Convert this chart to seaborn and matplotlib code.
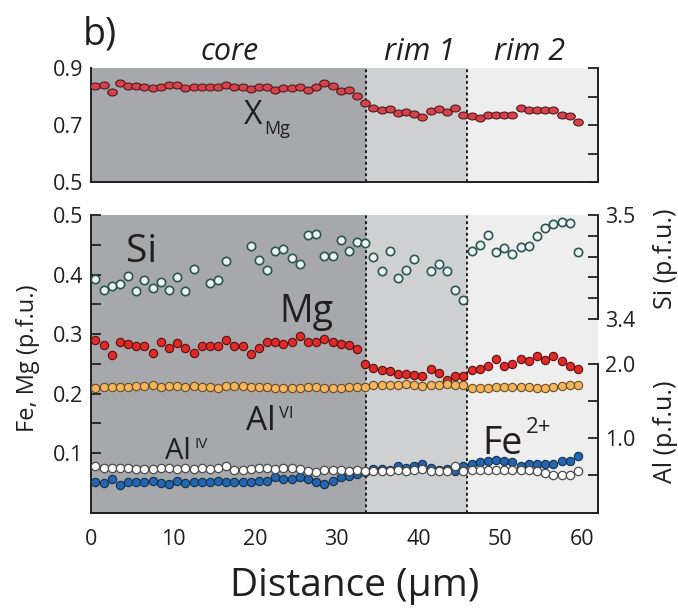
import numpy as np
import pandas as pd
import matplotlib
matplotlib.use("Agg")
import matplotlib.pyplot as plt
from matplotlib.path import Path
from matplotlib.transforms import Affine2D
import seaborn as sns

sns.set_theme(style="white")
plt.rcParams['font.family'] = ['Open Sans', 'DejaVu Sans']
plt.rcParams['axes.unicode_minus'] = False

# ---------------- data ----------------
distance = [0.5, 1.5, 2.5, 3.5, 4.5, 5.5, 6.5, 7.5, 8.5, 9.5,
            10.5, 11.5, 12.5, 13.5, 14.5, 15.5, 16.5, 17.5, 18.5, 19.5,
            20.5, 21.5, 22.5, 23.5, 24.5, 25.5, 26.5, 27.5, 28.5, 29.5,
            30.5, 31.5, 32.5, 33.5, 34.5, 35.5, 36.5, 37.5, 38.5, 39.5,
            40.5, 41.5, 42.5, 43.5, 44.5, 45.5, 46.5, 47.5, 48.5, 49.5,
            50.5, 51.5, 52.5, 53.5, 54.5, 55.5, 56.5, 57.5, 58.5, 59.5]

x_mg = [0.839, 0.841, 0.818, 0.847, 0.837, 0.838, 0.835, 0.831, 0.835, 0.840,
        0.842, 0.831, 0.835, 0.835, 0.835, 0.835, 0.842, 0.833, 0.833, 0.829,
        0.835, 0.835, 0.825, 0.830, 0.832, 0.835, 0.824, 0.835, 0.848, 0.838,
        0.820, 0.824, 0.803, 0.777, 0.760, 0.754, 0.757, 0.742, 0.748, 0.739,
        0.729, 0.751, 0.757, 0.747, 0.760, 0.735, 0.734, 0.726, 0.736, 0.736,
        0.735, 0.737, 0.760, 0.754, 0.755, 0.754, 0.754, 0.735, 0.732, 0.713]

mg = [0.290, 0.282, 0.265, 0.286, 0.283, 0.280, 0.280, 0.268, 0.286, 0.276,
      0.285, 0.276, 0.268, 0.280, 0.280, 0.280, 0.290, 0.280, 0.280, 0.267,
      0.277, 0.286, 0.287, 0.283, 0.286, 0.297, 0.286, 0.286, 0.292, 0.286,
      0.283, 0.282, 0.275, 0.250, 0.243, 0.239, 0.238, 0.233, 0.233, 0.232,
      0.230, 0.242, 0.235, 0.223, 0.230, 0.229, 0.239, 0.241, 0.247, 0.258,
      0.246, 0.249, 0.258, 0.255, 0.264, 0.256, 0.263, 0.254, 0.246, 0.242]

fe2 = [0.052, 0.050, 0.056, 0.047, 0.051, 0.052, 0.052, 0.053, 0.050, 0.049,
       0.054, 0.050, 0.052, 0.052, 0.052, 0.053, 0.051, 0.052, 0.052, 0.052,
       0.053, 0.054, 0.060, 0.056, 0.056, 0.060, 0.056, 0.051, 0.048, 0.053,
       0.060, 0.061, 0.065, 0.068, 0.074, 0.074, 0.072, 0.078, 0.075, 0.079,
       0.082, 0.075, 0.072, 0.074, 0.070, 0.078, 0.082, 0.085, 0.086, 0.089,
       0.086, 0.085, 0.079, 0.081, 0.082, 0.081, 0.082, 0.087, 0.086, 0.095]

si = [3.4385, 3.4282, 3.4314, 3.4334, 3.4416, 3.4266, 3.4377, 3.4300, 3.4358, 3.4281,
      3.4399, 3.4273, 3.4483, np.nan, 3.4343, 3.4375, 3.4558, np.nan, np.nan, 3.4697,
      3.4567, 3.4471, 3.4654, 3.4671, 3.4582, 3.4529, 3.4805, 3.4815, 3.4604, 3.4601,
      3.4762, 3.4657, 3.4740, 3.4731, 3.4593, 3.4459, 3.4654, 3.4394, 3.4471, 3.4574,
      np.nan, 3.4462, 3.4529, 3.4464, 3.4276, 3.4186, 3.4657, 3.4712, 3.4811, 3.4641,
      3.4680, 3.4625, 3.4689, 3.4699, 3.4801, 3.4872, 3.4913, 3.4936, 3.4923, 3.4647]

al_vi = [1.676, 1.684, 1.684, 1.689, 1.684, 1.697, 1.707, 1.711, 1.693, 1.697,
         1.697, 1.689, 1.697, 1.684, 1.684, 1.676, 1.697, 1.702, 1.702, 1.689,
         1.684, 1.684, 1.680, 1.680, 1.676, 1.676, 1.684, 1.684, 1.676, 1.676,
         1.676, 1.684, 1.684, 1.689, 1.711, 1.720, 1.711, 1.720, 1.733, 1.711,
         1.702, 1.711, 1.720, 1.724, 1.711, 1.711, 1.680, 1.680, 1.680, 1.689,
         1.689, 1.689, 1.689, 1.689, 1.680, 1.680, 1.689, 1.702, 1.711, 1.711]

al_iv = [0.623, 0.600, 0.600, 0.600, 0.600, 0.591, 0.591, 0.591, 0.600, 0.600,
         0.591, 0.600, 0.591, 0.600, 0.591, 0.600, 0.623, 0.578, 0.578, 0.591,
         0.600, 0.600, 0.591, 0.600, 0.600, 0.591, 0.556, 0.543, 0.578, 0.578,
         0.578, 0.564, 0.578, 0.556, 0.556, 0.556, 0.556, 0.578, 0.556, 0.578,
         0.591, 0.564, 0.556, 0.564, 0.623, 0.556, 0.569, 0.569, 0.569, 0.569,
         0.569, 0.569, 0.578, 0.569, 0.556, 0.533, 0.511, 0.511, 0.503, 0.556]

zone_edges = [0, 33.6, 46.0, 62]
zone_names = ["core", "rim 1", "rim 2"]
zone_colors = ["#a7a8ab", "#cfd0d2", "#eeeeef"]

x_ticks = [0, 10, 20, 30, 40, 50, 60]
top_yticks = [0.5, 0.6, 0.7, 0.8, 0.9]
top_ylabels = ["0.5", "", "0.7", "", "0.9"]
bot_yticks = [0.05, 0.1, 0.15, 0.2, 0.25, 0.3, 0.35, 0.4, 0.45, 0.5]
bot_ylabels = ["", "0.1", "", "0.2", "", "0.3", "", "0.4", "", "0.5"]
si_ticks = [3.4, 3.42, 3.44, 3.46, 3.48, 3.5]
si_labels = ["3.4", "", "", "", "", "3.5"]
al_ticks = [0.5, 1.0, 1.5, 2.0]
al_labels = ["", "1.0", "", "2.0"]

# ---------------- figure ----------------
W, H = 678, 609
fig = plt.figure(figsize=(W / 100, H / 100), dpi=100)
fig.patch.set_facecolor("white")

def fx(px):
    return px / W

def fy(py):
    return 1 - py / H

L, R = 91.3, 598.3
ax_top = fig.add_axes([fx(L), fy(182.3), (R - L) / W, (182.3 - 68.3) / H])
ax_bot = fig.add_axes([fx(L), fy(512.7), (R - L) / W, (512.7 - 215.0) / H])

INK = "#231f20"
TICKFS = 15.5

for ax in (ax_top, ax_bot):
    ax.set_xlim(0, 62)
    for i, c in enumerate(zone_colors):
        ax.axvspan(zone_edges[i], zone_edges[i + 1], color=c, lw=0, zorder=0)
    for xe in zone_edges[1:3]:
        ax.axvline(xe, color="#111111", lw=1.3, ls=(0, (1.6, 1.6)), zorder=1)
    ax.set_facecolor("none")
    ax.spines["top"].set_visible(False)
    for s in ("left", "bottom", "right"):
        ax.spines[s].set_color(INK)
        ax.spines[s].set_linewidth(1.4)
    ax.set_xticks(x_ticks)
    ax.tick_params(axis="both", direction="in", color=INK, width=1.3,
                   labelsize=TICKFS, labelcolor=INK)
    ax.tick_params(axis="y", length=7)
    ax.tick_params(axis="x", length=5.5, pad=12)
    ax.set_xlabel("")
    ax.set_ylabel("")

# ---- top panel: X_Mg
ellipse = Path.unit_circle().transformed(Affine2D().scale(1.0, 0.72))
df_top = pd.DataFrame({"distance": distance, "XMg": x_mg})
sns.scatterplot(data=df_top, x="distance", y="XMg", ax=ax_top, marker=ellipse,
                s=48, color="#d6434c", edgecolor="#4f1a1e", linewidth=0.8,
                legend=False, zorder=3)
ax_top.set_ylim(0.5, 0.9)
ax_top.set_yticks(top_yticks)
ax_top.set_yticklabels(top_ylabels)
ax_top.tick_params(axis="y", right=True, labelright=False, pad=6)
ax_top.tick_params(axis="x", labelbottom=False)
ax_top.set_xlabel("")
ax_top.set_ylabel("")

# ---- bottom panel
df_bot = pd.DataFrame({"distance": distance, "Mg": mg, "Fe2+": fe2,
                       "Si": si, "AlVI": al_vi, "AlIV": al_iv})
ax_bot.set_ylim(0, 0.5)
ax_bot.spines["right"].set_visible(False)
ax_bot.set_yticks(bot_yticks)
ax_bot.set_yticklabels(bot_ylabels)
ax_bot.tick_params(axis="y", pad=6)

ax_al = ax_bot.twinx()
ax_si = ax_bot.twinx()
for tw in (ax_al, ax_si):
    tw.set_xlim(0, 62)
    tw.grid(False)
    for s in ("top", "left", "bottom"):
        tw.spines[s].set_visible(False)
    tw.spines["right"].set_color(INK)
    tw.spines["right"].set_linewidth(1.4)
    tw.tick_params(axis="y", direction="in", length=7, width=1.3, color=INK,
                   labelsize=TICKFS, labelcolor=INK, pad=5)

ax_al.set_ylim(0, 4.0)
ax_al.spines["right"].set_bounds(0, 2.0)
ax_al.set_yticks(al_ticks)
ax_al.set_yticklabels(al_labels)

ax_si.set_ylim(3.5 - 0.2865, 3.5)
ax_si.spines["right"].set_bounds(3.4, 3.5)
ax_si.set_yticks(si_ticks)
ax_si.set_yticklabels(si_labels)

S = 36
sns.scatterplot(data=df_bot, x="distance", y="AlIV", ax=ax_al, marker="o", s=S,
                color="#ffffff", edgecolor="#4b4b4b", linewidth=0.9,
                legend=False, zorder=3)
sns.scatterplot(data=df_bot, x="distance", y="AlVI", ax=ax_al, marker="o", s=S,
                color="#f3b55d", edgecolor="#6a4b22", linewidth=0.8,
                legend=False, zorder=3)
sns.scatterplot(data=df_bot, x="distance", y="Si", ax=ax_si, marker="o", s=S,
                color="#edf6f2", edgecolor="#2b5552", linewidth=1.2,
                legend=False, zorder=3)
sns.scatterplot(data=df_bot, x="distance", y="Mg", ax=ax_bot, marker="o", s=S,
                color="#df2a28", edgecolor="#5a1010", linewidth=0.8,
                legend=False, zorder=3)
sns.scatterplot(data=df_bot, x="distance", y="Fe2+", ax=ax_bot, marker="o", s=S,
                color="#2465ad", edgecolor="#12304f", linewidth=0.8,
                legend=False, zorder=4)
for a in (ax_bot, ax_al, ax_si):
    a.set_xlabel("")
    a.set_ylabel("")
ax_bot.set_xticks(x_ticks)
ax_bot.set_xticklabels([str(v) for v in x_ticks])

# ---------------- texts ----------------
def ftext(px, py, s, **kw):
    kw.setdefault("color", INK)
    fig.text(fx(px), fy(py), s, **kw)

ftext(100, 45, "b)", fontsize=27, ha="center", va="baseline")
zone_px = [230, 420, 530]
for name, px in zip(zone_names, zone_px):
    ftext(px, 60, name, fontsize=22, style="italic", ha="center", va="baseline")

ftext(243.5, 123.5, "X", fontsize=23, ha="left", va="baseline")
ftext(264.5, 134, "Mg", fontsize=13, ha="left", va="baseline")

ftext(126, 261.5, "Si", fontsize=28, ha="left", va="baseline")
ftext(279, 322, "Mg", fontsize=27, ha="left", va="baseline")
ftext(246, 429.5, "Al", fontsize=24, ha="left", va="baseline")
ftext(279, 418.5, "VI", fontsize=12, ha="left", va="baseline")
ftext(165, 459, "Al", fontsize=21, ha="left", va="baseline")
ftext(194, 448, "IV", fontsize=11, ha="left", va="baseline")
ftext(482, 453.5, "Fe", fontsize=27, ha="left", va="baseline")
ftext(526, 433, "2+", fontsize=16, ha="left", va="baseline")

ftext(28, 358, "Fe, Mg (p.f.u.)", fontsize=17, rotation=90, ha="center", va="center")
ftext(666, 259, "Si (p.f.u.)", fontsize=18, rotation=90, ha="center", va="center")
ftext(666, 432, "Al (p.f.u.)", fontsize=18, rotation=90, ha="center", va="center")
ftext(355, 596, "Distance (µm)", fontsize=28, ha="center", va="baseline")

fig.savefig("out.png", dpi=100, facecolor="white")
